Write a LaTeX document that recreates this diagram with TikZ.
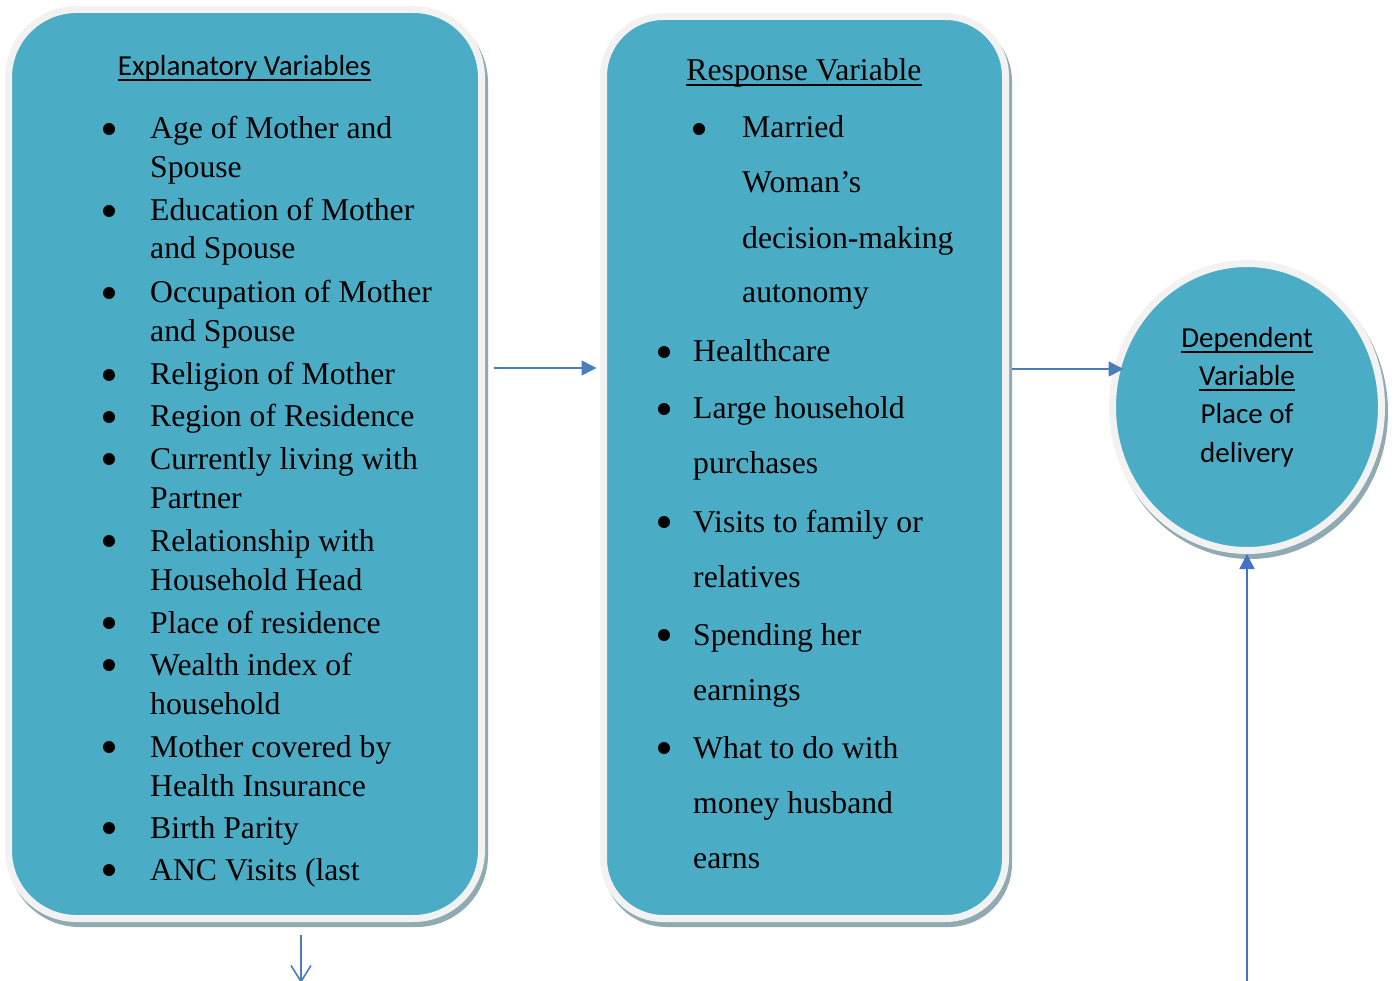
\documentclass[tikz,border=0pt]{standalone}
\usepackage{fontspec}
\setmainfont{Liberation Serif}
\newfontfamily\carlito{Carlito}
\usetikzlibrary{arrows.meta,calc,shapes.geometric}
\definecolor{panelfill}{HTML}{4BACC6}
\definecolor{ringgrey}{HTML}{F2F2F2}
\definecolor{shadowc}{HTML}{8FAAB2}
\definecolor{arrblue}{HTML}{4A7EBB}
\definecolor{arrblue2}{HTML}{4472C4}
\newcommand{\myul}[1]{\setbox0\hbox{#1}\rlap{\vrule width\wd0 height -3pt depth 5pt}\box0}
\begin{document}
\begin{tikzpicture}[x=1pt,y=-1pt,
  panel/.style={draw=ringgrey, fill=panelfill, line width=7pt, inner sep=0pt,
    preaction={fill=shadowc, draw=shadowc, line width=7pt, transform canvas={xshift=3pt,yshift=-5pt}}},
  itemtxt/.style={anchor=base west, inner sep=0pt, font=\fontsize{31.7}{38}\selectfont},
  bul/.style={circle, fill=black, inner sep=0pt, minimum size=12pt},
  ctxt/.style={anchor=base, inner sep=0pt, font=\carlito\fontsize{29}{35}\selectfont},
  arr/.style={draw=arrblue, line width=1.6pt, -{Triangle[length=15pt,width=15pt]}},
  arrb/.style={draw=arrblue2, line width=1.6pt, -{Triangle[length=15pt,width=15pt]}},
  arrv/.style={draw=arrblue, line width=1.6pt, -{Straight Barb[length=16pt,width=20pt]}}]
\useasboundingbox (0,0) rectangle (1398,981);

% panels
\node[panel, rounded corners=68pt, minimum width=473pt, minimum height=909pt] (b1) at (245,464) {};
\node[panel, rounded corners=60pt, minimum width=402pt, minimum height=902pt] (b2) at (804.5,467.5) {};
\node[panel, ellipse, minimum width=269pt, minimum height=287pt] (c) at (1247,407) {};

% titles
\node[ctxt] (t1) at (244.5,76) {\myul{Explanatory Variables}};
\node[anchor=base, inner sep=0pt, font=\fontsize{31.7}{38}\selectfont] (t2) at (804,81) {\myul{Response Variable}};
\node[ctxt] (d1) at (1247,348) {\myul{Dependent}};
\node[ctxt] (d2) at (1247,386) {\myul{Variable}};
\node[ctxt] (d3) at (1247,424) {Place of};
\node[ctxt] (d4) at (1247,463) {delivery};

% left list
\node[itemtxt] (l1) at (150,139) {Age of Mother and};
\node[itemtxt] (l2) at (150,178) {Spouse};
\node[itemtxt] (l3) at (150,221) {Education of Mother};
\node[itemtxt] (l4) at (150,259) {and Spouse};
\node[itemtxt] (l5) at (150,303) {Occupation of Mother};
\node[itemtxt] (l6) at (150,342) {and Spouse};
\node[itemtxt] (l7) at (150,385) {Religion of Mother};
\node[itemtxt] (l8) at (150,427) {Region of Residence};
\node[itemtxt] (l9) at (150,469) {Currently living with};
\node[itemtxt] (l10) at (150,508) {Partner};
\node[itemtxt] (l11) at (150,551) {Relationship with};
\node[itemtxt] (l12) at (150,590) {Household Head};
\node[itemtxt] (l13) at (150,633) {Place of residence};
\node[itemtxt] (l14) at (150,675) {Wealth index of};
\node[itemtxt] (l15) at (150,714) {household};
\node[itemtxt] (l16) at (150,757) {Mother covered by};
\node[itemtxt] (l17) at (150,796) {Health Insurance};
\node[itemtxt] (l18) at (150,838) {Birth Parity};
\node[itemtxt] (l19) at (150,880) {ANC Visits (last};
\foreach \yy [count=\i] in {129,211,293,375,417,459,541,623,665,747,828,870}
  \node[bul] (lb\i) at (109,\yy) {};

% middle list
\node[itemtxt] (m1) at (742,138) {Married};
\node[itemtxt] (m2) at (742,193) {Woman’s};
\node[itemtxt] (m3) at (742,249) {decision-making};
\node[itemtxt] (m4) at (742,303) {autonomy};
\node[itemtxt] (m5) at (693,362) {Healthcare};
\node[itemtxt] (m6) at (693,419) {Large household};
\node[itemtxt] (m7) at (693,474) {purchases};
\node[itemtxt] (m8) at (693,532) {Visits to family or};
\node[itemtxt] (m9) at (693,587) {relatives};
\node[itemtxt] (m10) at (693,645) {Spending her};
\node[itemtxt] (m11) at (693,700) {earnings};
\node[itemtxt] (m12) at (693,758) {What to do with};
\node[itemtxt] (m13) at (693,813) {money husband};
\node[itemtxt] (m14) at (693,868) {earns};
\node[bul] (mb1) at (699,129) {};
\foreach \yy [count=\i from 2] in {352,409,522,635,748}
  \node[bul] (mb\i) at (664,\yy) {};

% connectors
\coordinate (y1) at (0,368);
\coordinate (y2) at (0,369);
\coordinate (e3) at (1247,983);
\coordinate (e4) at (301,983);
\draw[arr] ($(b1.east|-y1)+(8.5,0)$) -- ($(b2.west|-y1)+(-3.5,0)$);
\draw[arr] ($(b2.east|-y2)+(3,0)$) -- ($(c.west|-y2)+(14.5,0)$);
\draw[arrb] (e3) -- (c.south);
\draw[arrv] ($(b1.south)+(56,12.5)$) -- (e4);
\end{tikzpicture}
\end{document}
